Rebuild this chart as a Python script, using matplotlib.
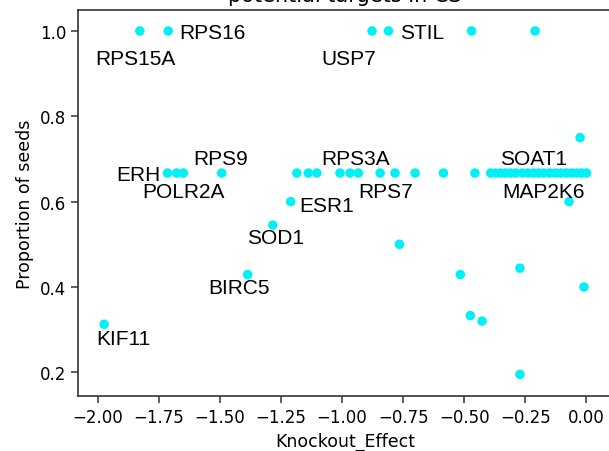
import matplotlib
matplotlib.use("Agg")
import matplotlib.pyplot as plt

# Knockout effect vs. proportion of seeds for candidate genes
knockout_effect = [
    -1.827, -1.711, -0.877, -0.810, -0.470, -0.210,
    -1.714, -1.676, -1.649, -1.492,
    -1.185, -1.138, -1.103, -1.008, -0.967, -0.933, -0.844, -0.783, -0.701,
    -0.585, -0.456,
    -0.392, -0.372, -0.352, -0.330, -0.310, -0.290, -0.262, -0.240, -0.215,
    -0.195, -0.175, -0.150, -0.125, -0.105, -0.082, -0.060, -0.040, -0.020, 0.000,
    -1.210, -1.283, -1.386, -1.973,
    -0.026, -0.071, -0.765, -0.516, -0.272, -0.010, -0.475, -0.427, -0.272,
]
proportion_seeds = [
    1.0, 1.0, 1.0, 1.0, 1.0, 1.0,
    0.667, 0.667, 0.667, 0.667,
    0.667, 0.667, 0.667, 0.667, 0.667, 0.667, 0.667, 0.667, 0.667,
    0.667, 0.667,
    0.667, 0.667, 0.667, 0.667, 0.667, 0.667, 0.667, 0.667, 0.667,
    0.667, 0.667, 0.667, 0.667, 0.667, 0.667, 0.667, 0.667, 0.667, 0.667,
    0.600, 0.545, 0.429, 0.3125,
    0.750, 0.600, 0.500, 0.429, 0.444, 0.400, 0.333, 0.320, 0.195,
]

# Labelled genes: point index into the arrays above
gene_names = ["RPS15A", "RPS16", "USP7", "STIL", "ERH", "POLR2A", "RPS9",
              "RPS3A", "RPS7", "ESR1", "SOD1", "BIRC5", "KIF11", "SOAT1", "MAP2K6"]
gene_index = [0, 1, 2, 3, 6, 8, 9, 15, 17, 40, 41, 42, 43, 29, 31]

# Label placement: offset in points from the point, horizontal alignment
label_layout = {
    "RPS15A": ((-3, -20), "center"),
    "RPS16": ((8, -1), "left"),
    "USP7": ((-17, -20), "center"),
    "STIL": ((8, -1), "left"),
    "ERH": ((-5, -1), "right"),
    "POLR2A": ((0, -13.5), "center"),
    "RPS9": ((-1, 10.5), "center"),
    "RPS3A": ((-2, 10.5), "center"),
    "RPS7": ((-7, -13.5), "center"),
    "ESR1": ((6, -3), "left"),
    "SOD1": ((2, -9), "center"),
    "BIRC5": ((-6, -9), "center"),
    "KIF11": ((14, -10.5), "center"),
    "SOAT1": ((-0.5, 10.5), "center"),
    "MAP2K6": ((0, -13.5), "center"),
}

fig = plt.figure(figsize=(6.09, 4.52), dpi=100)
ax = fig.add_axes([0.1281, 0.1217, 0.877, 0.854])

ax.scatter(knockout_effect, proportion_seeds, s=47, color="#00F0F5",
           edgecolors="none", zorder=3)

for name, idx in zip(gene_names, gene_index):
    (dx, dy), ha = label_layout[name]
    ax.annotate(name, (knockout_effect[idx], proportion_seeds[idx]),
                xytext=(dx, dy), textcoords="offset points",
                ha=ha, va="center", fontsize=15,
                family="Liberation Sans", color="black")

ax.set_xlim(-2.080, 0.105)
ax.set_ylim(0.1444, 1.0492)
ax.set_xticks([-2.0, -1.75, -1.5, -1.25, -1.0, -0.75, -0.5, -0.25, 0.0])
ax.set_yticks([0.2, 0.4, 0.6, 0.8, 1.0])
ax.tick_params(labelsize=12, length=5, width=1.1, color="#333333")
for sp in ax.spines.values():
    sp.set_color("#333333")
    sp.set_linewidth(1.2)

ax.set_xlabel("Knockout_Effect", fontsize=12.5)
ax.set_ylabel("Proportion of seeds", fontsize=12.5)

fig.text(0.5665, 1 - 2 / 452, "potential targets in CS", ha="center",
         va="baseline", fontsize=15)

fig.savefig("out.png", dpi=100)
